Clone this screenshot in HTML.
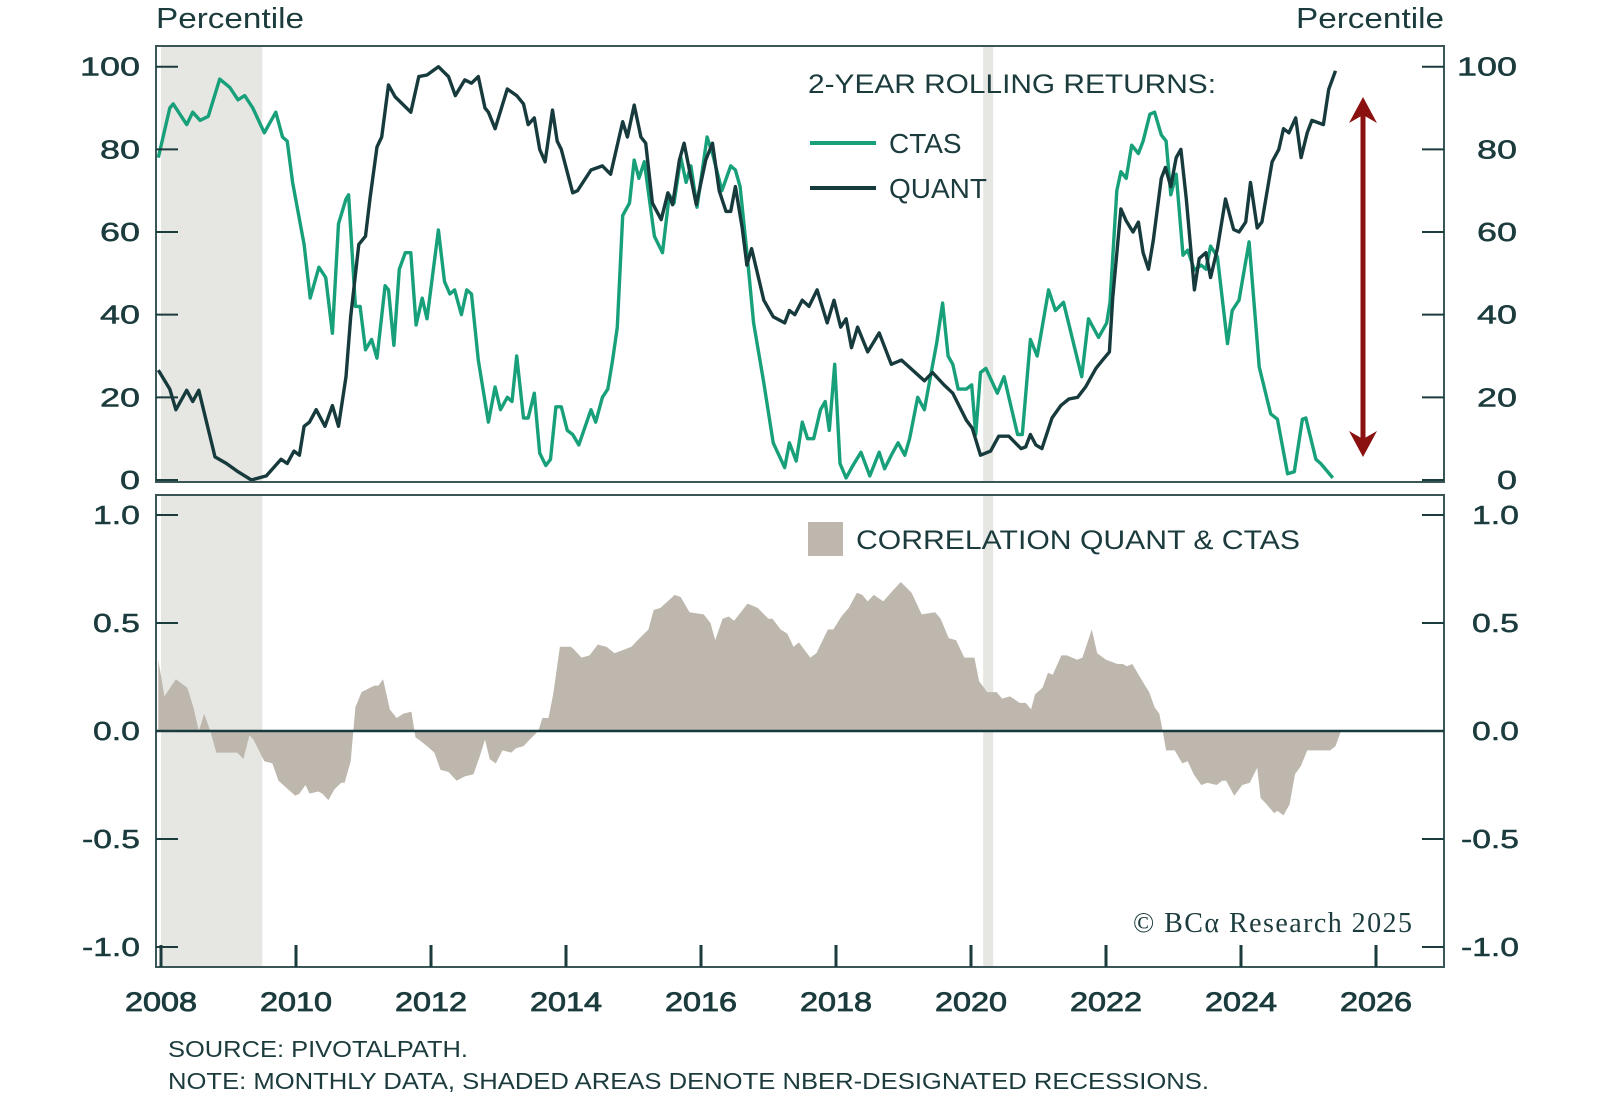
<!DOCTYPE html>
<html><head><meta charset="utf-8">
<style>
html,body{margin:0;padding:0;background:#fff;}
svg{display:block;font-family:"Liberation Sans",sans-serif;}
</style></head>
<body>
<svg id="chart" width="1600" height="1107" viewBox="0 0 1600 1107" xmlns="http://www.w3.org/2000/svg">
<rect x="0" y="0" width="1600" height="1107" fill="#fff"/>
<g id="shades"></g>
<g id="area"></g>
<g id="lines"></g>
<g id="frame"></g>
<g id="labels"></g>
</svg>
<script>
// ---- data ----
const yearTicks = [2008,2010,2012,2014,2016,2018,2020,2022,2024,2026];
const topTicks = [0,20,40,60,80,100];
const botTicks = [-1.0,-0.5,0.0,0.5,1.0];
const botTickLabels = ["-1.0","-0.5","0.0","0.5","1.0"];
const recessions = [[2008.0,2009.5],[2020.18,2020.33]];

const ctasYears = [2007.96,2008.13,2008.18,2008.38,2008.47,2008.58,2008.7,2008.87,2009.02,2009.14,2009.24,2009.36,2009.53,2009.7,2009.8,2009.87,2009.95,2010.12,2010.21,2010.34,2010.44,2010.54,2010.63,2010.74,2010.78,2010.88,2010.95,2011.03,2011.12,2011.2,2011.32,2011.37,2011.45,2011.53,2011.62,2011.7,2011.78,2011.87,2011.94,2012.11,2012.2,2012.28,2012.35,2012.45,2012.53,2012.6,2012.7,2012.85,2012.95,2013.03,2013.13,2013.2,2013.27,2013.37,2013.44,2013.53,2013.61,2013.7,2013.77,2013.85,2013.93,2014.02,2014.1,2014.19,2014.37,2014.44,2014.54,2014.62,2014.69,2014.76,2014.84,2014.94,2015.01,2015.08,2015.16,2015.31,2015.43,2015.53,2015.6,2015.7,2015.78,2015.85,2015.94,2016.09,2016.17,2016.31,2016.44,2016.51,2016.58,2016.68,2016.78,2016.93,2017.07,2017.24,2017.31,2017.41,2017.5,2017.58,2017.67,2017.77,2017.84,2017.9,2017.98,2018.06,2018.15,2018.25,2018.37,2018.5,2018.64,2018.72,2018.82,2018.92,2019.02,2019.09,2019.21,2019.31,2019.41,2019.49,2019.58,2019.66,2019.73,2019.81,2019.93,2020.01,2020.07,2020.14,2020.22,2020.39,2020.49,2020.59,2020.69,2020.76,2020.88,2020.98,2021.15,2021.25,2021.37,2021.64,2021.74,2021.89,2022.01,2022.06,2022.16,2022.22,2022.3,2022.38,2022.48,2022.55,2022.65,2022.72,2022.82,2022.89,2022.96,2023.04,2023.14,2023.21,2023.31,2023.41,2023.48,2023.55,2023.65,2023.8,2023.87,2023.97,2024.12,2024.27,2024.44,2024.54,2024.69,2024.79,2024.91,2024.96,2025.11,2025.18,2025.36];
const ctasValues = [78,90,91,86,89,87,88,97,95,92,93,90,84,89,83,82,72,57,44,51.5,49,35.5,62,68,69,42,42,31.5,34,29.5,47,46,32.6,51,55,55,37.5,44,39,60.5,48,45,46,40,46,45,29,14,22.5,17,20,19,30,15,15,21,6.5,3.5,5,17.7,17.7,12,11,8.5,17,14,20,22,29,37,64,67,77.4,73,77,59,55,69,67,78,72,76,66,83,79,70,76,75,71,55,38,23.5,9,3,9,4.6,14,10,10,17,19,12,28,4,0.5,3.5,6.7,1,6.7,2.7,6,9,6,10,20,17,26,33,42.8,30,28,22,22,23,11,26,27,21,25,18,11,11,34,30,46,41,43,25,39,34.5,38,43,70,74.6,73,81,79,82,88.5,89,83.5,82,69,74,54.4,55.6,50.8,52,51,56.6,54,33,41,43.5,57.6,27.4,16,14.7,1.5,2,14.7,15,5,4,0.5];

const quantYears = [2007.96,2008.13,2008.22,2008.38,2008.47,2008.56,2008.8,2008.97,2009.14,2009.34,2009.56,2009.78,2009.87,2009.97,2010.05,2010.12,2010.2,2010.3,2010.43,2010.54,2010.63,2010.74,2010.81,2010.93,2011.03,2011.1,2011.2,2011.27,2011.37,2011.47,2011.7,2011.82,2011.94,2012.11,2012.26,2012.36,2012.5,2012.6,2012.7,2012.8,2012.85,2012.95,2013.13,2013.27,2013.37,2013.44,2013.53,2013.61,2013.69,2013.8,2013.87,2013.93,2014.1,2014.17,2014.37,2014.54,2014.66,2014.84,2014.91,2015.01,2015.11,2015.18,2015.28,2015.41,2015.51,2015.58,2015.68,2015.75,2015.93,2016.07,2016.17,2016.27,2016.37,2016.44,2016.51,2016.61,2016.68,2016.75,2016.93,2017.07,2017.24,2017.31,2017.39,2017.5,2017.6,2017.72,2017.87,2017.97,2018.07,2018.15,2018.23,2018.32,2018.47,2018.64,2018.82,2018.97,2019.31,2019.43,2019.6,2019.73,2019.93,2020.02,2020.14,2020.29,2020.41,2020.56,2020.74,2020.81,2020.88,2020.96,2021.05,2021.2,2021.33,2021.45,2021.58,2021.7,2021.85,2021.95,2022.05,2022.1,2022.22,2022.3,2022.4,2022.48,2022.55,2022.63,2022.7,2022.82,2022.88,2022.96,2023.04,2023.11,2023.19,2023.31,2023.38,2023.48,2023.55,2023.65,2023.77,2023.89,2023.97,2024.07,2024.14,2024.24,2024.31,2024.46,2024.56,2024.63,2024.71,2024.81,2024.89,2024.98,2025.05,2025.22,2025.3,2025.4];
const quantValues = [26.6,22,17,21.7,19,21.7,5.6,4,2,0,1,5,4,7,6,13,14,17,13,18,13,25,39.5,57,59,68.5,80.6,83,95.6,92.7,89,97.6,98,100,97.6,93,96.8,96,97.6,90,89,85,94.6,93,91,86,87.6,80,77,89.5,82,80,69.5,70,75,76,74,86.7,83,90.7,83,81.5,67,63,69.5,66.6,77.4,81.5,66.6,77.4,81.5,70,65,65,71,61,52,56,43.5,39.5,38,41,40,43.5,42,46,38,43.5,37,39,32,37,31,35.6,28,29,24,26,23,21,14.5,12.5,6,7,10.6,10.6,7.6,8,11,8.5,7.6,15,18,19.6,20,22.6,27,29,31,44,65.6,62.7,60,62.4,55,51,58,73,75.6,71,78,80,68,46,53.6,55,49,56,68,60.6,60,62.4,72,61,62.4,77,80,85,84,87.6,78,84,87,86,94.5,99];

const corrYears = [2007.96,2008.05,2008.22,2008.39,2008.48,2008.56,2008.64,2008.73,2008.82,2008.97,2009.13,2009.22,2009.31,2009.37,2009.53,2009.65,2009.74,2009.99,2010.05,2010.14,2010.2,2010.33,2010.39,2010.48,2010.57,2010.67,2010.72,2010.81,2010.88,2010.97,2011.16,2011.22,2011.29,2011.39,2011.49,2011.59,2011.71,2011.77,2011.82,2011.94,2012.05,2012.14,2012.26,2012.38,2012.5,2012.63,2012.72,2012.8,2012.87,2012.96,2013.06,2013.19,2013.26,2013.37,2013.46,2013.59,2013.65,2013.74,2013.81,2013.91,2014.07,2014.11,2014.23,2014.35,2014.47,2014.6,2014.72,2014.97,2015.06,2015.22,2015.3,2015.4,2015.61,2015.7,2015.83,2016.04,2016.14,2016.21,2016.32,2016.41,2016.49,2016.69,2016.84,2017.0,2017.06,2017.18,2017.28,2017.37,2017.45,2017.62,2017.71,2017.88,2017.96,2018.08,2018.19,2018.31,2018.39,2018.47,2018.56,2018.7,2018.84,2018.96,2019.12,2019.27,2019.47,2019.55,2019.67,2019.78,2019.9,2020.05,2020.12,2020.24,2020.38,2020.46,2020.58,2020.72,2020.81,2020.89,2020.95,2021.06,2021.14,2021.21,2021.34,2021.42,2021.57,2021.65,2021.79,2021.87,2022.0,2022.17,2022.25,2022.31,2022.39,2022.56,2022.64,2022.72,2022.79,2022.84,2022.89,2023.02,2023.13,2023.21,2023.3,2023.41,2023.5,2023.64,2023.72,2023.78,2023.9,2024.02,2024.13,2024.24,2024.29,2024.38,2024.49,2024.54,2024.63,2024.72,2024.8,2024.89,2024.98,2025.24,2025.32,2025.4,2025.47];
const corrValues = [0.33,0.16,0.24,0.2,0.11,0,0.08,0,-0.1,-0.1,-0.1,-0.13,-0.02,-0.04,-0.14,-0.15,-0.23,-0.3,-0.29,-0.25,-0.29,-0.28,-0.29,-0.32,-0.27,-0.24,-0.24,-0.14,0.11,0.18,0.21,0.21,0.24,0.1,0.06,0.08,0.09,-0.03,-0.04,-0.07,-0.1,-0.18,-0.19,-0.23,-0.21,-0.2,-0.12,-0.04,-0.13,-0.15,-0.09,-0.1,-0.08,-0.07,-0.04,0,0.06,0.06,0.17,0.39,0.39,0.38,0.34,0.35,0.4,0.39,0.36,0.39,0.42,0.47,0.56,0.57,0.63,0.62,0.55,0.54,0.5,0.42,0.52,0.53,0.51,0.59,0.57,0.52,0.52,0.47,0.45,0.39,0.41,0.34,0.36,0.47,0.47,0.53,0.57,0.64,0.63,0.6,0.63,0.6,0.65,0.69,0.64,0.54,0.55,0.52,0.43,0.42,0.34,0.34,0.23,0.18,0.18,0.15,0.16,0.13,0.13,0.1,0.17,0.2,0.27,0.26,0.35,0.35,0.33,0.34,0.47,0.36,0.33,0.31,0.31,0.3,0.31,0.22,0.18,0.11,0.08,0,-0.09,-0.09,-0.15,-0.14,-0.2,-0.25,-0.24,-0.25,-0.23,-0.23,-0.3,-0.25,-0.24,-0.17,-0.31,-0.34,-0.38,-0.37,-0.39,-0.34,-0.2,-0.16,-0.09,-0.09,-0.09,-0.07,-0.01];

// ---- geometry / scales ----
const NS = "http://www.w3.org/2000/svg";
const L = 156, R = 1444;
const T1 = 46, B1 = 482, T2 = 495, B2 = 967;
const xs = y => 161 + (y - 2008) * 67.5;
const ys1 = v => 480 - v * 4.133;
const ys2 = v => 731 - v * 216;
const INK = "#1b3b3d", GREEN = "#17a07a", DARK = "#173a3c", FRAME = "#3b5656";

function mk(tag, attrs, parent) {
  const e = document.createElementNS(NS, tag);
  for (const k in attrs) e.setAttribute(k, attrs[k]);
  parent.appendChild(e);
  return e;
}
const gShade = document.getElementById('shades');
const gArea = document.getElementById('area');
const gLines = document.getElementById('lines');
const gFrame = document.getElementById('frame');
const gLab = document.getElementById('labels');

recessions.forEach(r => {
  [[T1,B1],[T2,B2]].forEach(p => {
    const el = mk('rect', {x: xs(r[0]), y: p[0], width: xs(r[1]) - xs(r[0]), height: p[1] - p[0], fill: '#e6e6e2'}, gShade);
    
    
  });
});

let d = `M${xs(corrYears[0])},${ys2(0)}`;
corrYears.forEach((y, i) => { d += ` L${xs(y).toFixed(1)},${ys2(corrValues[i]).toFixed(1)}`; });
d += ` L${xs(corrYears[corrYears.length-1])},${ys2(0)} Z`;
const area = mk('path', {d: d, fill: '#bdb7ae'}, gArea);



function line(years, vals, color, name) {
  const pts = years.map((y, i) => `${xs(y).toFixed(1)},${ys1(vals[i]).toFixed(1)}`).join(' ');
  const el = mk('polyline', {points: pts, fill: 'none', stroke: color, 'stroke-width': 3.4, 'stroke-linejoin': 'round'}, gLines);
  
  
}
line(ctasYears, ctasValues, GREEN, 'ctas-line');
line(quantYears, quantValues, DARK, 'quant-line');

[[T1,B1],[T2,B2]].forEach((p, i) => {
  const el = mk('rect', {x: L, y: p[0], width: R - L, height: p[1] - p[0], fill: 'none', stroke: FRAME, 'stroke-width': 2}, gFrame);
  
  
});
const zl = mk('line', {x1: L, x2: R, y1: ys2(0), y2: ys2(0), stroke: DARK, 'stroke-width': 2.5}, gFrame);



function txt(s, x, y, size, anchor, name, extra) {
  const el = mk('text', Object.assign({x: x, y: y, 'font-size': size, fill: INK, 'text-anchor': anchor || 'start'}, extra || {}), gLab);
  el.textContent = s;
  
  
  return el;
}
function numW(s) {
  let w = 0;
  for (const c of s) w += (c === '.') ? 7 : (c === '-') ? 11 : 20;
  return w;
}
const numStyle = s => ({textLength: numW(s), lengthAdjust: 'spacingAndGlyphs', stroke: INK, 'stroke-width': 0.5});

topTicks.forEach(v => {
  const y = ys1(v);
  const a = mk('line', {x1: L, x2: 178, y1: y, y2: y, stroke: INK, 'stroke-width': 2}, gFrame);
  
  
  const b = mk('line', {x1: 1422, x2: R, y1: y, y2: y, stroke: INK, 'stroke-width': 2}, gFrame);
  
  
  const s = String(v);
  txt(s, 140, y + 9, 26, 'end', 'y-label-left', numStyle(s));
  txt(s, 1517, y + 9, 26, 'end', 'y-label-right', numStyle(s));
});
botTicks.forEach((v, i) => {
  const y = ys2(v);
  const a = mk('line', {x1: L, x2: 178, y1: y, y2: y, stroke: INK, 'stroke-width': 2}, gFrame);
  
  
  const b = mk('line', {x1: 1422, x2: R, y1: y, y2: y, stroke: INK, 'stroke-width': 2}, gFrame);
  
  
  const s = botTickLabels[i];
  txt(s, 140, y + 9, 26, 'end', 'corr-label-left', numStyle(s));
  txt(s, 1519, y + 9, 26, 'end', 'corr-label-right', numStyle(s));
});
yearTicks.forEach(yr => {
  const x = xs(yr);
  const t = mk('line', {x1: x, x2: x, y1: 945, y2: B2, stroke: INK, 'stroke-width': 3}, gFrame);
  
  
  txt(String(yr), x, 1011, 27, 'middle', 'x-label', {textLength: 72, lengthAdjust: 'spacingAndGlyphs', stroke: INK, 'stroke-width': 0.8});
});

txt('Percentile', 156, 28, 29, 'start', 'y-axis-title-left', {textLength: 148, lengthAdjust: 'spacingAndGlyphs'});
txt('Percentile', 1444, 28, 29, 'end', 'y-axis-title-right', {textLength: 148, lengthAdjust: 'spacingAndGlyphs'});
txt('2-YEAR ROLLING RETURNS:', 808, 93, 27, 'start', 'legend-title', {textLength: 408, lengthAdjust: 'spacingAndGlyphs'});
let lg = mk('line', {x1: 810, x2: 876, y1: 143, y2: 143, stroke: GREEN, 'stroke-width': 4}, gLab);


txt('CTAS', 889, 153, 28, 'start', 'legend-ctas-label');
lg = mk('line', {x1: 810, x2: 876, y1: 188, y2: 188, stroke: DARK, 'stroke-width': 4}, gLab);


txt('QUANT', 889, 198, 28, 'start', 'legend-quant-label');
lg = mk('rect', {x: 808, y: 522, width: 35, height: 34, fill: '#bdb7ae'}, gLab);


txt('CORRELATION QUANT & CTAS', 856, 549, 27, 'start', 'legend-correlation-label', {textLength: 444, lengthAdjust: 'spacingAndGlyphs'});

const ax = 1363, atop = 97, abot = 457;
const arrow = mk('g', {}, gLab);


mk('line', {x1: ax, x2: ax, y1: atop + 18, y2: abot - 18, stroke: '#8b1111', 'stroke-width': 5}, arrow);
mk('polygon', {points: `${ax},${atop} ${ax-14},${atop+26} ${ax},${atop+18} ${ax+14},${atop+26}`, fill: '#8b1111'}, arrow);
mk('polygon', {points: `${ax},${abot} ${ax-14},${abot-26} ${ax},${abot-18} ${ax+14},${abot-26}`, fill: '#8b1111'}, arrow);

txt('© BCα Research 2025', 1412, 932, 28, 'end', 'copyright', {'font-family': '"Liberation Serif", serif', textLength: 279});
txt('SOURCE: PIVOTALPATH.', 168, 1057, 23, 'start', 'source-note', {textLength: 300, lengthAdjust: 'spacingAndGlyphs'});
txt('NOTE: MONTHLY DATA, SHADED AREAS DENOTE NBER-DESIGNATED RECESSIONS.', 168, 1089, 23, 'start', 'footnote', {textLength: 1041, lengthAdjust: 'spacingAndGlyphs'});
</script>
</body></html>
